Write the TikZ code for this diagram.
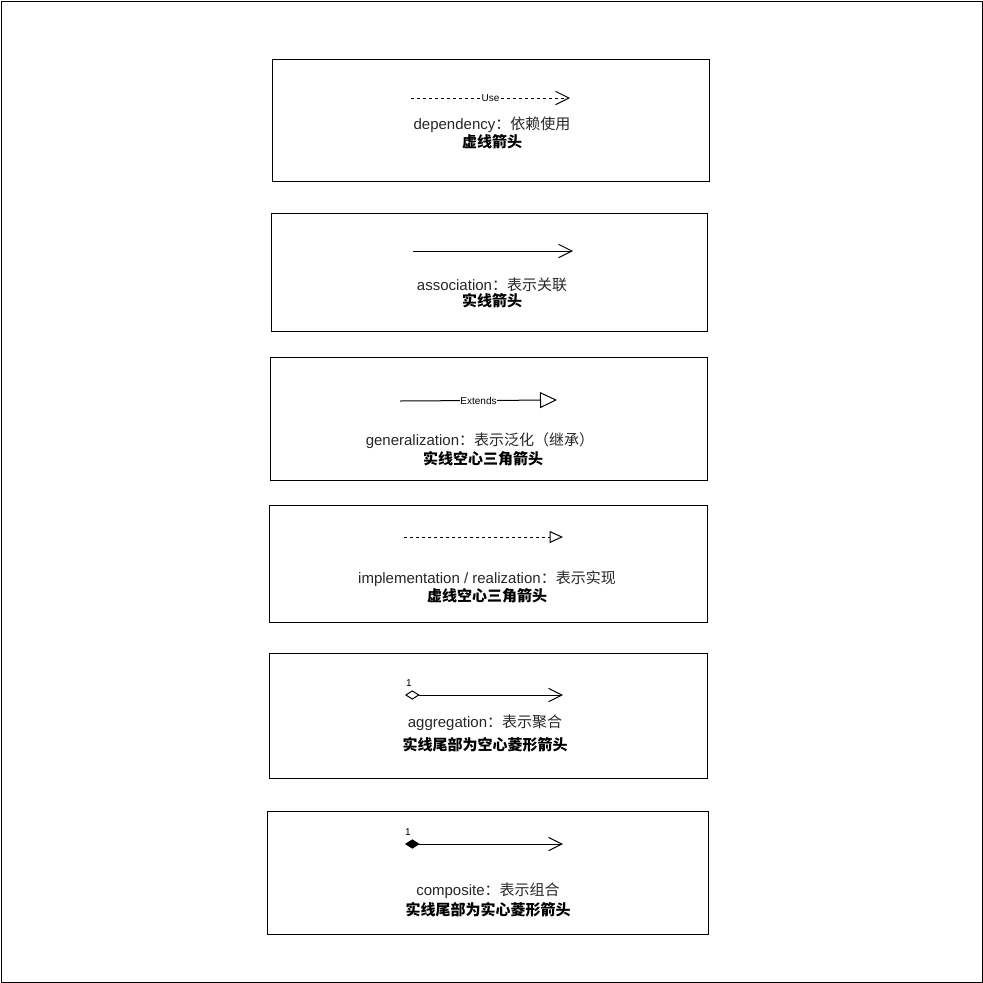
\documentclass[tikz,border=0pt]{standalone}
\usepackage{fontspec}
\setmainfont{Liberation Sans}
\newfontfamily\cjk{Noto Sans CJK SC}
\usetikzlibrary{arrows.meta}

\tikzset{
  frame/.style={draw,line width=0.75pt},
  txt/.style={font=\fontsize{11.25}{13}\selectfont,inner sep=0pt,text=black!85},
  kind/.style={font=\fontsize{11.25}{13}\selectfont\cjk\bfseries,inner sep=0pt},
  tag/.style={font=\fontsize{7.5}{9}\selectfont,fill=white,inner sep=0.6pt},
  link/.style={line width=0.75pt},
  dashline/.style={dash pattern=on 2.25pt off 2.25pt},
  barb/.style={-{Straight Barb[length=10pt,width=10pt]}}
}

\begin{document}
\begin{tikzpicture}[x=0.75pt,y=-0.75pt]
  \useasboundingbox (0,0) rectangle (983,983);
  \draw[line width=0.75pt] (1,1) rectangle (982,982);

  % frames
  \draw[frame] (272,59) rectangle (709,181);
  \draw[frame] (271,213) rectangle (707,331);
  \draw[frame] (270,357) rectangle (707,480);
  \draw[frame] (269,505) rectangle (707,622);
  \draw[frame] (269,653) rectangle (707,778);
  \draw[frame] (267,811) rectangle (708,934);

  % dependency
  \coordinate (dep1) at (411,98);
  \coordinate (dep2) at (570,98);
  \draw[link,dashline,barb] (dep1) -- node[tag] {Use} (dep2);
  \node (deptxt) at (492,125) [txt] {dependency{\cjk ：依赖使用}};
  \node (depkind) at (492,142) [kind] {虚线箭头};

  % association
  \coordinate (asc1) at (413,251);
  \coordinate (asc2) at (573,251);
  \draw[link,barb] (asc1) -- (asc2);
  \node (asctxt) at (492,285) [txt] {association{\cjk ：表示关联}};
  \node (asckind) at (492,301) [kind] {实线箭头};

  % generalization
  \coordinate (gen1) at (400,401);
  \coordinate (gen2) at (557,400);
  \draw[link,-{Triangle[open,length=12.75pt,width=12pt]}] (gen1) -- node[tag] {Extends} (gen2);
  \node (gentxt) at (480,441) [txt] {generalization{\cjk ：表示泛化（继承）}};
  \node (genkind) at (483,459) [kind] {实线空心三角箭头};

  % realization
  \coordinate (imp1) at (404,537);
  \coordinate (imp2) at (563,537);
  \draw[link,dashline,-{Triangle[open,length=10pt,width=9pt]}] (imp1) -- (imp2);
  \node (imptxt) at (487,579) [txt] {implementation / realization{\cjk ：表示实现}};
  \node (impkind) at (487,596) [kind] {虚线空心三角箭头};

  % aggregation
  \coordinate (agg1) at (405,695);
  \coordinate (agg2) at (563,695);
  \draw[link,{Diamond[open,length=11pt,width=7pt]}-{Straight Barb[length=10pt,width=10pt]}] (agg1) -- (agg2);
  \node (aggone) at (409,683) [font=\fontsize{7.5}{9}\selectfont,inner sep=0pt] {1};
  \node (aggtxt) at (485,723) [txt] {aggregation{\cjk ：表示聚合}};
  \node (aggkind) at (485,745) [kind] {实线尾部为空心菱形箭头};

  % composite
  \coordinate (cmp1) at (405,844);
  \coordinate (cmp2) at (563,844);
  \draw[link,{Diamond[length=11pt,width=7pt]}-{Straight Barb[length=10pt,width=10pt]}] (cmp1) -- (cmp2);
  \node (cmpone) at (408,832) [font=\fontsize{7.5}{9}\selectfont,inner sep=0pt] {1};
  \node (cmptxt) at (488,891) [txt] {composite{\cjk ：表示组合}};
  \node (cmpkind) at (488,910) [kind] {实线尾部为实心菱形箭头};
\end{tikzpicture}
\end{document}
